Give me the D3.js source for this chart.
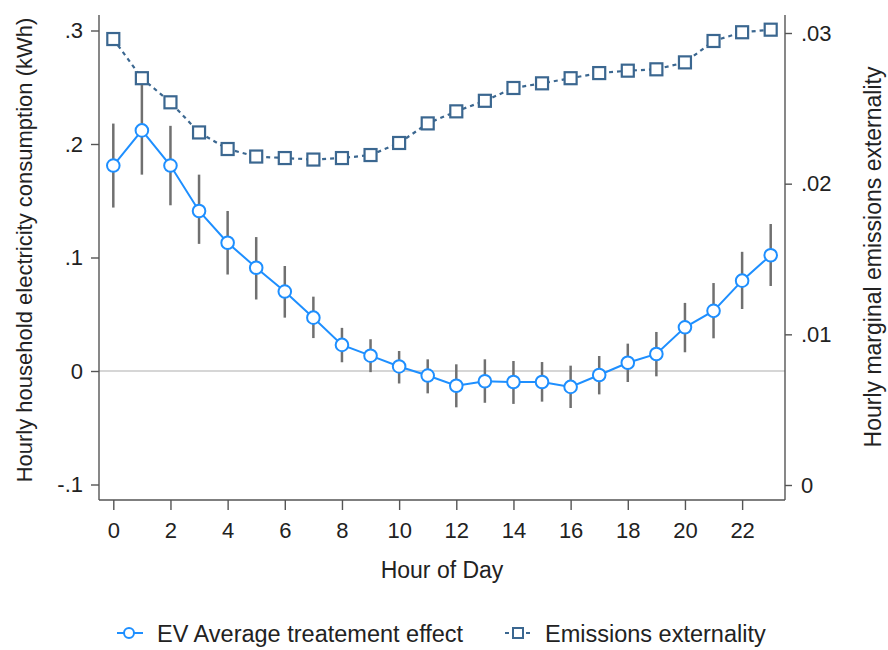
<!DOCTYPE html>
<html><head><meta charset="utf-8">
<script src="https://cdn.jsdelivr.net/npm/d3@7"></script>
<style>body{margin:0;background:#fff}svg{display:block}text{font-family:"Liberation Sans",Arial,sans-serif;fill:#222}</style>
</head><body><svg id="c" width="888" height="650"></svg>
<script>
const hours = d3.range(0, 24);
const evEffect = [0.181,0.212,0.181,0.141,0.113,0.091,0.070,0.047,0.023,0.0135,0.004,-0.004,-0.013,-0.009,-0.0097,-0.0097,-0.014,-0.0035,0.0073,0.015,0.0385,0.053,0.0796,0.102];
const evLow = [0.144,0.173,0.146,0.112,0.085,0.063,0.047,0.029,0.0077,-0.001,-0.011,-0.0197,-0.032,-0.028,-0.029,-0.027,-0.0326,-0.0206,-0.0097,-0.0047,0.0165,0.0288,0.0546,0.0749];
const evHigh = [0.218,0.252,0.216,0.173,0.141,0.118,0.0925,0.0655,0.038,0.028,0.0176,0.0103,0.0059,0.0103,0.0088,0.0079,0.0047,0.0132,0.0241,0.0344,0.060,0.0775,0.105,0.1295];
const emissions = [0.0296,0.0270,0.0254,0.0234,0.0223,0.0218,0.0217,0.0216,0.0217,0.0219,0.0227,0.0240,0.0248,0.0255,0.02635,0.02666,0.0270,0.02734,0.0275,0.02759,0.02805,0.02947,0.03005,0.03022];
const xTicks = d3.range(0, 24, 2);
const yLeftTicks = [-0.1, 0, 0.1, 0.2, 0.3];
const yLeftLabels = ["-.1", "0", ".1", ".2", ".3"];
const yRightTicks = [0, 0.01, 0.02, 0.03];
const yRightLabels = ["0", ".01", ".02", ".03"];
const legendLabels = ["EV Average treatement effect", "Emissions externality"];

const evColor = "#1e8fff", emColor = "#3b6790", barColor = "#707070", axisColor = "#555";
const svg = d3.select("#c");
const L = 99, R = 785, T = 15, B = 500;
const x = d3.scaleLinear().domain([0, 23]).range([113.3, 770.7]);
const yL = d3.scaleLinear().domain([-0.1, 0.3]).range([484.5, 30.5]);
const yR = d3.scaleLinear().domain([0, 0.03]).range([485, 33]);

// zero line
svg.append("line").attr("x1", L).attr("x2", R).attr("y1", yL(0)).attr("y2", yL(0)).attr("stroke", "#c8c8c8").attr("stroke-width", 1.5);

const tickFont = 22;
function styleAxis(g){
  g.attr("font-size", null).attr("font-family", null);
  g.selectAll("path,line").attr("stroke", axisColor).attr("stroke-width", 1.4);
  g.selectAll("text").attr("font-size", tickFont).attr("fill", "#222");
}
svg.append("g").attr("transform", `translate(${L},0)`)
  .call(d3.axisLeft(yL).tickValues(yLeftTicks).tickFormat((d, i) => yLeftLabels[i]).tickSize(8).tickSizeOuter(0).tickPadding(8))
  .call(g => g.select(".domain").attr("d", `M0,${T}V${B}`)).call(styleAxis);
svg.append("g").attr("transform", `translate(${R},0)`)
  .call(d3.axisRight(yR).tickValues(yRightTicks).tickFormat((d, i) => yRightLabels[i]).tickSize(7).tickSizeOuter(0).tickPadding(9))
  .call(g => g.select(".domain").attr("d", `M0,${T}V${B}`)).call(styleAxis);
svg.append("g").attr("transform", `translate(0,${B})`)
  .call(d3.axisBottom(x).tickValues(xTicks).tickFormat(d3.format("d")).tickSize(10).tickSizeOuter(0).tickPadding(12))
  .call(g => g.select(".domain").attr("d", `M${L},0H${R}`)).call(styleAxis);

// titles
svg.append("text").attr("transform", `translate(32,250) rotate(-90)`).attr("text-anchor", "middle").attr("font-size", 22).text("Hourly household electricity consumption (kWh)");
svg.append("text").attr("transform", `translate(881,257) rotate(-90)`).attr("text-anchor", "middle").attr("font-size", 23).text("Hourly marginal emissions externality");
svg.append("text").attr("x", 442).attr("y", 578).attr("text-anchor", "middle").attr("font-size", 23).text("Hour of Day");

// emissions series
svg.append("path").datum(hours).attr("fill", "none").attr("stroke", emColor).attr("stroke-width", 2.2).attr("stroke-dasharray", "4,4")
  .attr("d", d3.line().x(h => x(h)).y(h => yR(emissions[h])));
svg.selectAll(".sq").data(hours).join("rect").attr("class", "sq")
  .attr("x", h => x(h) - 6).attr("y", h => yR(emissions[h]) - 6).attr("width", 12).attr("height", 12)
  .attr("fill", "#fff").attr("stroke", emColor).attr("stroke-width", 2.2);

// error bars
svg.selectAll(".eb").data(hours).join("line").attr("class", "eb")
  .attr("x1", h => x(h)).attr("x2", h => x(h)).attr("y1", h => yL(evLow[h])).attr("y2", h => yL(evHigh[h]))
  .attr("stroke", barColor).attr("stroke-width", 2.5);
// EV line
svg.append("path").datum(hours).attr("fill", "none").attr("stroke", evColor).attr("stroke-width", 2)
  .attr("d", d3.line().x(h => x(h)).y(h => yL(evEffect[h])));
svg.selectAll(".ci").data(hours).join("circle").attr("class", "ci")
  .attr("cx", h => x(h)).attr("cy", h => yL(evEffect[h])).attr("r", 6.3)
  .attr("fill", "#fff").attr("stroke", evColor).attr("stroke-width", 2);

// legend
const ly = 633;
const lg = svg.append("g");
lg.append("line").attr("x1", 117).attr("x2", 143).attr("y1", ly).attr("y2", ly).attr("stroke", evColor).attr("stroke-width", 2);
lg.append("circle").attr("cx", 129).attr("cy", ly).attr("r", 5).attr("fill", "#fff").attr("stroke", evColor).attr("stroke-width", 2);
lg.append("text").attr("x", 157).attr("y", ly + 9).attr("font-size", 23.5).text(legendLabels[0]);
lg.append("line").attr("x1", 505).attr("x2", 531).attr("y1", ly).attr("y2", ly).attr("stroke", emColor).attr("stroke-width", 2).attr("stroke-dasharray", "4,3");
lg.append("rect").attr("x", 513).attr("y", ly - 5).attr("width", 10).attr("height", 10).attr("fill", "#fff").attr("stroke", emColor).attr("stroke-width", 2);
lg.append("text").attr("x", 545).attr("y", ly + 9).attr("font-size", 23.5).text(legendLabels[1]);
</script></body></html>
